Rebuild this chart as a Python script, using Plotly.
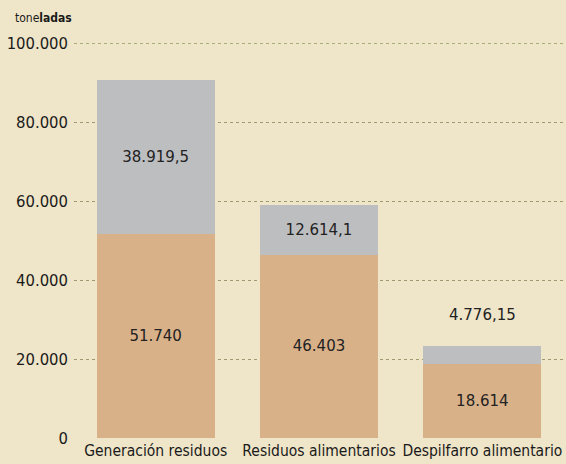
import plotly.graph_objects as go

categories = ["Generación residuos", "Residuos alimentarios", "Despilfarro alimentario"]
base_values = [51740, 46403, 18614]
top_values = [38919.5, 12614.1, 4776.15]
base_labels = ["51.740", "46.403", "18.614"]
top_labels = ["38.919,5", "12.614,1", "4.776,15"]
y_ticks = [0, 20000, 40000, 60000, 80000, 100000]

COND = "DejaVu Sans Condensed, Liberation Sans Narrow, Roboto, sans-serif"
LABEL_FONT = dict(family="DejaVu Sans, sans-serif", size=15, color="#222222")
BG = "#efe5c8"

fig = go.Figure()
fig.add_trace(go.Bar(
    x=categories, y=base_values, marker=dict(color="#d9b189", line=dict(width=0)),
    text=base_labels, textposition="inside", insidetextanchor="middle",
    textfont=LABEL_FONT, hoverinfo="skip",
))
fig.add_trace(go.Bar(
    x=categories, y=top_values, marker=dict(color="#bdbec0", line=dict(width=0)),
    text=[top_labels[0], top_labels[1], ""], textposition="inside",
    insidetextanchor="middle", textfont=LABEL_FONT, hoverinfo="skip",
))
# small value label placed above the short bar
fig.add_annotation(
    x=categories[2], y=base_values[2] + top_values[2], text=top_labels[2],
    showarrow=False, yanchor="bottom", yshift=20, font=LABEL_FONT,
)
fig.add_annotation(
    xref="paper", yref="paper", x=-0.125, y=1.0, xanchor="left", yanchor="bottom",
    yshift=16, text="tone<b>ladas</b>", showarrow=False,
    font=dict(family=COND, size=12, color="#1a1a1a"),
)
fig.add_shape(type="line", xref="paper", yref="y", x0=0, x1=1, y0=y_ticks[-1], y1=y_ticks[-1],
              line=dict(color="#5e7a22", width=1, dash="3px,3px"), layer="below")

fig.update_layout(
    width=566, height=464,
    margin=dict(l=74, r=2, t=43, b=26),
    paper_bgcolor=BG, plot_bgcolor=BG,
    barmode="stack", bargap=0.276, showlegend=False,
    separators=",.",
)
fig.update_xaxes(
    showgrid=False, zeroline=False, showline=False, ticks="", automargin=False,
    tickfont=dict(family=COND, size=15.5, color="#1a1a1a"), ticklabelstandoff=1,
)
fig.update_yaxes(
    range=[0, 100000], tickvals=y_ticks, tickformat=",d", automargin=False,
    showgrid=True, gridcolor="#9c9a6e", griddash="3px,3px", gridwidth=1,
    zeroline=False, showline=False, ticks="", ticklabelstandoff=5,
    tickfont=dict(family=COND, size=16.5, color="#1a1a1a"),
)

fig.write_html(
    "out.html",
    config={"displayModeBar": False},
    post_script="document.body.style.margin='0';document.body.style.background='%s';"
                "document.body.style.overflow='hidden';" % BG,
)
